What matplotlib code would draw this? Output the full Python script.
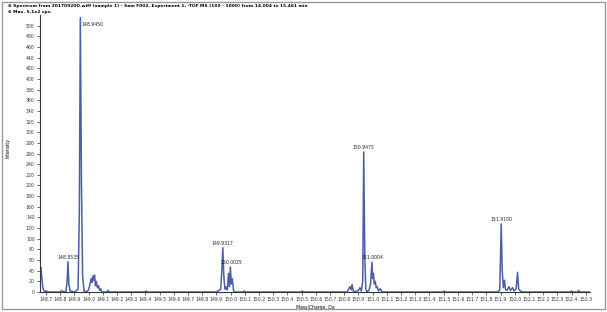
import matplotlib
matplotlib.use("Agg")
import matplotlib.pyplot as plt
from matplotlib.patches import Rectangle

# Spectrum profile (m/z, intensity)
mz = [148.660, 148.664, 148.670, 148.678, 148.690, 148.700, 148.715, 148.800, 148.806, 148.840,
      148.849, 148.855, 148.861, 148.870, 148.900, 148.926, 148.935, 148.942, 148.950, 148.958,
      148.968, 148.985, 149.000, 149.010, 149.018, 149.024, 149.030, 149.036, 149.042, 149.048,
      149.055, 149.062, 149.070, 149.078, 149.085, 149.095, 149.130, 149.136, 149.142, 149.400,
      149.405, 149.410, 149.900, 149.930, 149.938, 149.945, 149.952, 149.960, 149.970, 149.977,
      149.985, 149.992, 149.998, 150.005, 150.012, 150.020, 150.030, 150.090, 150.096, 150.102,
      150.500, 150.505, 150.510, 150.820, 150.840, 150.848, 150.855, 150.862, 150.870, 150.900,
      150.910, 150.920, 150.930, 150.937, 150.945, 150.952, 150.960, 150.975, 150.985, 150.995,
      151.000, 151.005, 151.012, 151.018, 151.025, 151.032, 151.040, 151.055, 151.065, 151.500,
      151.505, 151.510, 151.880, 151.895, 151.905, 151.912, 151.920, 151.928, 151.935, 151.945,
      151.960, 151.970, 151.985, 151.995, 152.010, 152.020, 152.028, 152.040, 152.055, 152.395,
      152.400, 152.405, 152.445, 152.450, 152.455, 152.530]
intensity = [42, 46, 30, 8, 0, 2, 0, 0, 2, 0,
             20, 57, 15, 2, 0, 5, 150, 515, 200, 30,
             2, 0, 4, 15, 25, 18, 30, 22, 32, 12,
             20, 8, 12, 3, 6, 0, 0, 3, 0, 0,
             2, 0, 0, 5, 40, 83, 30, 5, 10, 4,
             35, 10, 47, 15, 25, 3, 0, 0, 2, 0,
             0, 2, 0, 0, 10, 4, 14, 3, 0, 3,
             8, 2, 20, 263, 60, 5, 0, 4, 15, 56,
             25, 35, 15, 20, 8, 10, 2, 6, 0, 0,
             2, 0, 0, 4, 128, 40, 8, 22, 5, 3,
             10, 3, 8, 2, 6, 37, 5, 2, 0, 0,
             2, 0, 0, 3, 0, 0]

# Peak annotations
peak_mz = [148.855, 148.942, 149.945, 150.003, 150.937, 150.995, 151.905]
peak_int = [57, 515, 83, 47, 263, 56, 128]
peak_labels = ["148.8535", "148.9450", "149.9317", "150.0025", "150.9475", "151.0004", "151.9100"]

xticks = [round(148.7 + 0.1 * i, 1) for i in range(39)]
yticks = list(range(0, 520, 20))

fig = plt.figure(figsize=(6.07, 3.12), dpi=100)
fig.patch.set_facecolor("white")
fig.add_artist(Rectangle((0.003, 0.01), 0.993, 0.985, transform=fig.transFigure,
                         fill=False, edgecolor="#9a9a9a", linewidth=1.0))

ax = fig.add_axes([40 / 607, 20 / 312, 550 / 607, 277 / 312])
ax.plot(mz, intensity, color="#4a5fa8", linewidth=1.1)
ax.set_xlim(148.658, 152.53)
ax.set_ylim(0, 520)
ax.set_xticks(xticks)
ax.set_xticklabels([f"{t:.1f}" for t in xticks], fontsize=3.3)
ax.set_yticks(yticks)
ax.set_yticklabels([str(t) for t in yticks], fontsize=3.3)
ax.tick_params(axis="both", length=2, width=0.5, pad=1.8, colors="#333333")
for s in ["top", "right"]:
    ax.spines[s].set_visible(False)
for s in ["left", "bottom"]:
    ax.spines[s].set_linewidth(0.8)
    ax.spines[s].set_color("#333333")

for m, h, lab in zip(peak_mz, peak_int, peak_labels):
    if h > 500:
        ax.text(m + 0.006, h - 8, lab, fontsize=3.3, ha="left", va="top", color="#222222")
    else:
        ax.text(m, h + 4, lab, fontsize=3.3, ha="center", va="bottom", color="#222222")

ax.set_xlabel("Mass/Charge, Da", fontsize=3.3, labelpad=2, x=(315 - 40) / 550, ha="center")
ax.text(-0.058, 0.52, "Intensity", transform=ax.transAxes, rotation=90, fontsize=3.3,
        ha="center", va="center")

fig.text(8 / 607, 1 - 6 / 312,
         "\u2295 Spectrum from 20170920D.wiff (sample 1) - Sam F002, Experiment 1, -TOF MS (100 - 1000) from 14.004 to 15.461 min",
         fontsize=3.2, fontweight="bold", ha="left", va="center")
fig.text(8 / 607, 1 - 12 / 312, "\u2295 Max. 5.1e2 cps.", fontsize=3.2, fontweight="bold",
         ha="left", va="center")

fig.savefig("out.png", dpi=100)
